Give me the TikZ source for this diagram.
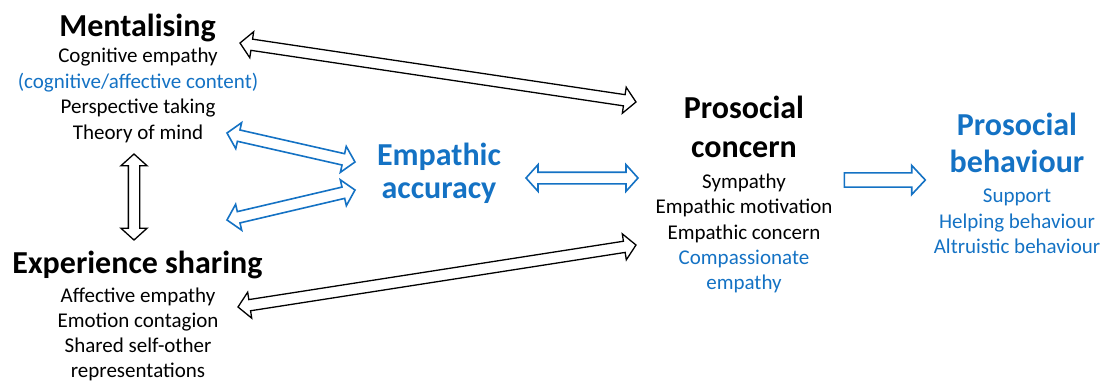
\documentclass[tikz,border=0pt]{standalone}
\usepackage{fontspec}
\setmainfont{Carlito}
\usetikzlibrary{shapes.arrows,calc}
\definecolor{accblue}{RGB}{20,114,196}
\tikzset{
  x=1pt, y=-1pt,
  title/.style={font=\fontsize{32}{39}\selectfont\bfseries, anchor=base, inner sep=0pt},
  item/.style={font=\fontsize{21}{25.6}\selectfont, anchor=base, inner sep=0pt},
  dbl/.style={double arrow, fill=white, inner sep=0pt, inner ysep=5pt,
    double arrow head extend=7.5pt, double arrow tip angle=96},
  sgl/.style={single arrow, fill=white, inner sep=0pt, inner ysep=6.3pt,
    single arrow head extend=7.5pt, single arrow tip angle=94},
  blk/.style={draw=black, line width=1.3pt},
  blu/.style={draw=accblue, line width=1.6pt},
}
\newcommand\hollowarrow[3]{%
  \path let \p1=(#2), \p2=(#3), \n1={atan2(\y2-\y1,\x2-\x1)},
    \n2={veclen(\x2-\x1,\y2-\y1)} in
    node[#1, minimum height=\n2, rotate=\n1] at ($(#2)!0.5!(#3)$) {};}
\begin{document}
\begin{tikzpicture}
\useasboundingbox (0,0) rectangle (1106,383);

% Mentalising
\node[title] (ment) at (137.5,36) {Mentalising};
\node[item] (m1) at (138,62) {Cognitive empathy};
\node[item, text=accblue] (m2) at (138,88) {(cognitive/affective content)};
\node[item] (m3) at (138,113) {Perspective taking};
\node[item] (m4) at (138,139) {Theory of mind};

% Experience sharing
\node[title] (exp) at (137.5,273) {Experience sharing};
\node[item] (e1) at (138,302) {Affective empathy};
\node[item] (e2) at (138,327) {Emotion contagion};
\node[item] (e3) at (138,352) {Shared self-other};
\node[item] (e4) at (138,377) {representations};

% Empathic accuracy
\node[title, text=accblue] (ea1) at (439,165) {Empathic};
\node[title, text=accblue] (ea2) at (439,198) {accuracy};

% Prosocial concern
\node[title] (pc1) at (744,118) {Prosocial};
\node[title] (pc2) at (744,157) {concern};
\node[item] (p1) at (744,188) {Sympathy};
\node[item] (p2) at (744,213) {Empathic motivation};
\node[item] (p3) at (744,239) {Empathic concern};
\node[item, text=accblue] (p4) at (744,264) {Compassionate};
\node[item, text=accblue] (p5) at (744,289) {empathy};

% Prosocial behaviour
\node[title, text=accblue] (pb1) at (1017,135) {Prosocial};
\node[title, text=accblue] (pb2) at (1017,172) {behaviour};
\node[item, text=accblue] (b1) at (1017,202) {Support};
\node[item, text=accblue] (b2) at (1017,228) {Helping behaviour};
\node[item, text=accblue] (b3) at (1017,253) {Altruistic behaviour};

% arrow end points
\coordinate (aMl) at (240,43);   \coordinate (aPc) at (636,102);
\coordinate (aTm) at (227,133);  \coordinate (aEa1) at (355,162);
\coordinate (aEs) at (227,220);  \coordinate (aEa2) at (355,190);
\coordinate (aVt) at (134,154);  \coordinate (aVb) at (134,240);
\coordinate (aEa3) at (526,178); \coordinate (aPc2) at (638,178);
\coordinate (aPcR) at (841,180); \coordinate (aPb) at (922,180);
\coordinate (aAe) at (238,307);  \coordinate (aPc3) at (636,245);

\hollowarrow{dbl,blk}{aMl}{aPc}
\hollowarrow{dbl,blu}{aTm}{aEa1}
\hollowarrow{dbl,blu}{aEs}{aEa2}
\hollowarrow{dbl,blk}{aVt}{aVb}
\hollowarrow{dbl,blu}{aEa3}{aPc2}
\hollowarrow{sgl,blu}{aPcR}{aPb}
\hollowarrow{dbl,blk}{aAe}{aPc3}
\end{tikzpicture}
\end{document}
